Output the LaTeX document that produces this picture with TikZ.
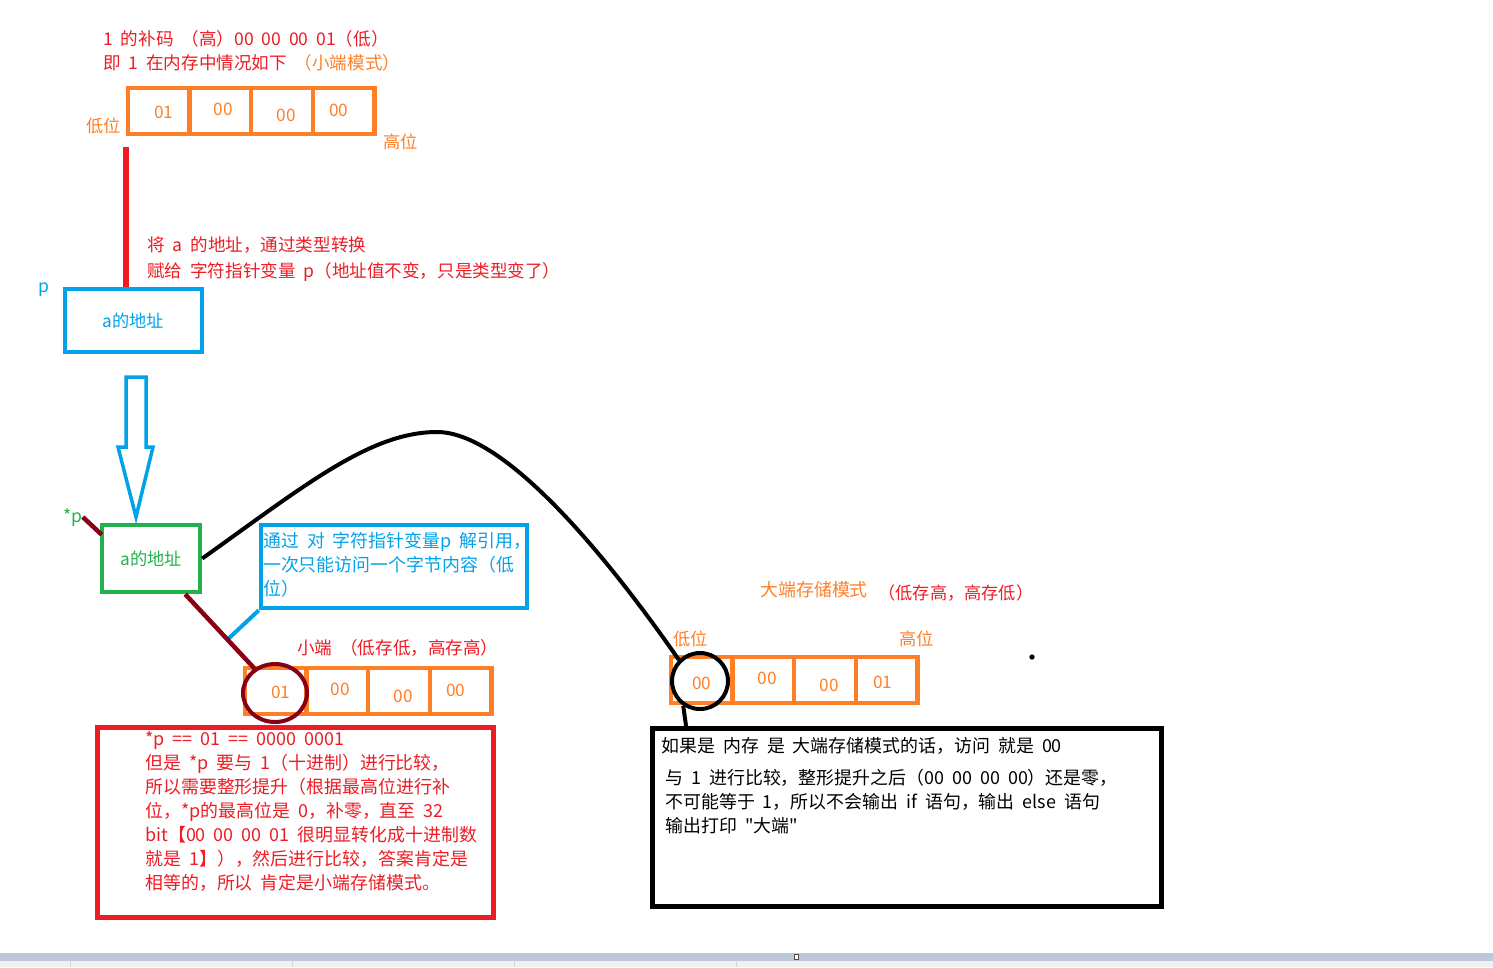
\documentclass[tikz,border=0pt]{standalone}
\usepackage{fontspec}
\setmainfont[WordSpace=2.0, Ligatures=TeXOff]{Noto Sans CJK SC}
\usetikzlibrary{calc,positioning,shapes.geometric}
\definecolor{mp-red}{HTML}{ED1C24}
\definecolor{mp-orange}{HTML}{FF7F27}
\definecolor{mp-blue}{HTML}{00A2E8}
\definecolor{mp-green}{HTML}{22B14C}
\definecolor{mp-darkred}{HTML}{880015}
\definecolor{mp-band}{HTML}{BCC8DA}
\newcommand{\commfnt}{\fontsize{10}{13.6}\selectfont}
\newcommand{\labfnt}{\fontsize{9.8}{13.6}\selectfont}
\newcommand{\boxfnt}{\fontsize{10.2}{13.6}\selectfont}

\begin{document}
\begin{tikzpicture}[x=0.02cm, y=-0.02cm, >=latex,
    memcell/.style={draw=mp-orange, line width=0.09cm, minimum width=1.232cm, minimum height=0.92cm, inner sep=0pt},
    celltxt/.style={mp-orange, font=\labfnt, inner sep=0pt},
    note/.style={anchor=west, inner sep=0pt, text height=0.8em, text depth=0.2em},
    ptrbox/.style={line width=0.09cm, inner sep=0pt},
    wire/.style={line width=0.08cm}]

    \useasboundingbox (0,0) rectangle (1493,967);

    % --- 1 的补码，小端存放 ---
    \node[note, mp-red, font=\commfnt] (codeA) at (103,40) {1 的补码 （高）00 00 00 01（低）};
    \node[note, mp-red, font=\commfnt] (codeB) at (103,64) {即 1 在内存中情况如下 \textcolor{mp-orange}{（小端模式）}};

    \foreach \i/\val/\dx/\dy in {1/01/5/1, 2/00/3/-2, 3/00/4/4, 4/00/-5/-1} {
        \node[memcell] (top\i) at ({128+61.6*(\i-0.5)},111) {};
        \node[celltxt] (topv\i) at ($(top\i)+(\dx,\dy)$) {\val};
    }
    \node[note, mp-orange, font=\labfnt] (topLow) at (86,127) {低位};
    \node[note, mp-orange, font=\labfnt] (topHigh) at (383,143) {高位};

    % --- 强制类型转换 -> char* p ---
    \node[note, mp-red, font=\commfnt] (castA) at (147,246) {将 a 的地址，通过类型转换};
    \node[note, mp-red, font=\commfnt] (castB) at (147,272) {赋给 字符指针变量 p（地址值不变，只是类型变了）};

    \node[ptrbox, draw=mp-blue, text=mp-blue, font=\labfnt, minimum width=2.74cm, minimum height=1.26cm] (pbox) at (133.5,320.5) {a的地址};
    \node[note, mp-blue, font=\commfnt] (plabel) at (38,287) {p};

    \draw[mp-red, line width=0.12cm] ($(top1.south west)+(0,11)$) -- (top1.south west |- pbox.north);

    % 空心箭头（解引用）
    \draw[mp-blue, line width=0.07cm] (126,377) -- (146,377) -- (146,447) -- (153,447) -- (136,517) -- (118,447) -- (126,447) -- cycle;

    % --- *p ---
    \node[ptrbox, draw=mp-green, text=mp-green, font=\labfnt, minimum width=1.96cm, minimum height=1.34cm] (gbox) at (151,558.5) {a的地址};
    \node[note, mp-green, font=\commfnt] (starp) at (63,517) {*p};
    \draw[mp-darkred, line width=0.09cm] (starp.east) -- ($(gbox.north west)+(2,12)$);

    \node[ptrbox, draw=mp-blue, minimum width=5.32cm, minimum height=1.66cm] (derefNote) at (394,566.5) {};
    \foreach \t [count=\k] in {{通过 对 字符指针变量p 解引用，}, {一次只能访问一个字节内容（低}, {位）}}
        \node[note, mp-blue, font=\boxfnt] (derefLine\k) at ($(derefNote.north west)+(4,-5+24*\k)$) {\t};
    \coordinate (derefTip) at ($(derefNote.south west)+(-32,30)$);
    \draw[mp-blue, wire] (derefNote.south west) -- (derefTip);

    % --- 小端 ---
    \node[note, mp-red, font=\commfnt] (littleTitle) at (297,649) {小端 （低存低，高存高）};
    \foreach \i/\val/\dx/\dy in {1/01/5/1, 2/00/3/-2, 3/00/4/5, 4/00/-5/-1} {
        \node[memcell] (little\i) at ({245+61.6*(\i-0.5)},691) {};
        \node[celltxt] (littlev\i) at ($(little\i)+(\dx,\dy)$) {\val};
    }
    \node[ellipse, draw=mp-darkred, line width=0.08cm, minimum width=1.28cm, minimum height=1.16cm, inner sep=0pt] (lcirc) at (275,693) {};
    \draw[mp-darkred, line width=0.09cm] ($(gbox.south east)+(-17,0)$) -- (lcirc.130);

    \node[ptrbox, draw=mp-red, line width=0.1cm, minimum width=7.92cm, minimum height=3.8cm] (cmpBox) at (295.5,822.5) {};
    \foreach \t [count=\k] in {{*p == 01 == 0000 0001}, {但是 *p 要与 1（十进制）进行比较，}, {所以需要整形提升（根据最高位进行补}, {位，*p的最高位是 0，补零，直至 32}, {bit【00 00 00 01 很明显转化成十进制数}, {就是 1】），然后进行比较，答案肯定是}, {相等的，所以 肯定是小端存储模式。}}
        \node[note, mp-red, font=\boxfnt] (cmpLine\k) at (145,{716+24*\k}) {\t};

    % --- 大端 ---
    \node[note, mp-orange, font=\boxfnt] (bigTitle) at (760,591) {大端存储模式};
    \node[note, mp-red, font=\labfnt] (bigRule) at (878,594) {（低存高，高存低）};
    \node[note, mp-orange, font=\labfnt] (bigLow) at (673,640) {低位};
    \node[note, mp-orange, font=\labfnt] (bigHigh) at (899,640) {高位};
    \foreach \i/\val/\dx/\dy in {1/00/0/3, 2/00/4/-2, 3/00/4/5, 4/01/-4/2} {
        \node[memcell] (big\i) at ({671+61.6*(\i-0.5)},680) {};
        \node[celltxt] (bigv\i) at ($(big\i)+(\dx,\dy)$) {\val};
    }
    \node[circle, draw, line width=0.08cm, minimum size=1.12cm, inner sep=0pt] (bcirc) at (700,681) {};
    \fill (1032,657) circle (1.5pt);

    \node[ptrbox, draw, line width=0.1cm, minimum width=10.18cm, minimum height=3.56cm] (bigBox) at (907,817.5) {};
    \node[note, font=\boxfnt] (bigLine0) at (661,747) {如果是 内存 是 大端存储模式的话，访问 就是 00};
    \foreach \t [count=\k] in {{与 1 进行比较，整形提升之后（00 00 00 00）还是零，}, {不可能等于 1，所以不会输出 if 语句，输出 else 语句}, {输出打印 "大端"}}
        \node[note, font=\boxfnt] (bigLine\k) at (665,{755+24*\k}) {\t};
    \draw[wire] (bcirc.236) -- ($(bigBox.north west)+(36,0)$);

    % 从 *p 指向大端情况的曲线
    \draw[wire] (gbox.east) .. controls (304,486) and (370,432) .. (437,432) .. controls (510,432) and (620,575) .. (bcirc.135);

    % --- 底部状态栏 ---
    \fill[mp-band] (0,953) rectangle (1493,961);
    \fill[gray!12] (0,961) rectangle (1493,967);
    \foreach \sx in {70,292,514,736}
        \draw[gray!35, line width=0.4pt] (\sx,962) -- (\sx,967);
    \draw[fill=white, draw=black!70, line width=0.4pt] (794,954.5) rectangle (798,959.5);

\end{tikzpicture}
\end{document}
